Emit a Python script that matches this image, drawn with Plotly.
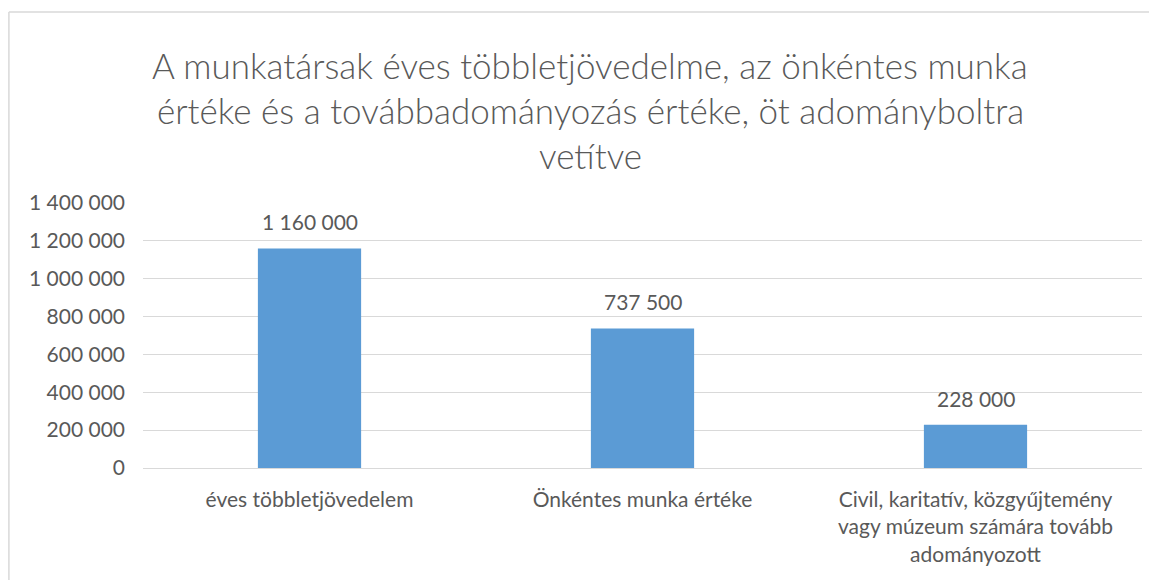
import plotly.graph_objects as go

categories = [
    "éves többletjövedelem",
    "Önkéntes munka értéke",
    "Civil, karitatív, közgyűjtemény<br>vagy múzeum számára tovább<br>adományozott",
]
values = [1160000, 737500, 228000]
tick_vals = [0, 200000, 400000, 600000, 800000, 1000000, 1200000, 1400000]
title_lines = [
    "A munkatársak éves többletjövedelme, az önkéntes munka",
    "értéke és a továbbadományozás értéke, öt adományboltra",
    "vetítve",
]

def fmt(v):
    return f"{v:,}".replace(",", " ")

W, H = 1157, 580
OFF = 8  # page body offset
L, R, T, B = 143 - OFF, 15 + OFF, 203 - OFF, 112 + OFF
PW, PH = W - L - R, H - T - B

def px(xp):
    return (xp - OFF - L) / PW

def py(yp):
    return (H - B - (yp - OFF)) / PH

TXT = "#595959"
FONT = "Lato"
FS = 21
BORDER = dict(color="#D9D9D9", width=1.5)

fig = go.Figure()
fig.add_trace(go.Bar(
    x=categories, y=values,
    marker=dict(color="#5B9BD5", line=dict(width=0)),
    width=0.31,
    hoverinfo="skip",
))

annotations = []
for c, v in zip(categories, values):
    annotations.append(dict(
        x=c, y=v, xref="x", yref="y", text=fmt(v), showarrow=False,
        yanchor="bottom", yshift=12, font=dict(family=FONT, size=FS, color=TXT),
    ))
for i, line in enumerate(title_lines):
    annotations.append(dict(
        x=px(590), y=py(65 + 45 * i), xref="paper", yref="paper",
        text=line, showarrow=False, xanchor="center", yanchor="middle",
        font=dict(family=FONT, size=35, color=TXT, weight=300),
    ))

fig.update_layout(
    width=W, height=H,
    margin=dict(l=L, r=R, t=T, b=B, autoexpand=False),
    paper_bgcolor="white", plot_bgcolor="white",
    separators=", ",
    showlegend=False,
    annotations=annotations,
    shapes=[
        dict(type="line", xref="paper", yref="paper",
             x0=px(8.9), x1=px(1200), y0=py(12), y1=py(12), line=BORDER, layer="below"),
        dict(type="line", xref="paper", yref="paper",
             x0=px(8.9), x1=px(8.9), y0=py(12), y1=py(650), line=BORDER, layer="below"),
    ],
    font=dict(family=FONT, size=FS, color=TXT),
)
fig.update_yaxes(
    range=[0, 1400000], tickvals=tick_vals, ticktext=[fmt(t) for t in tick_vals],
    showgrid=True, gridcolor="#D9D9D9", gridwidth=1,
    zeroline=True, zerolinecolor="#D9D9D9", zerolinewidth=1,
    showline=False, ticks="", ticklabelstandoff=17, automargin=False,
    tickfont=dict(family=FONT, size=FS, color=TXT),
)
fig.update_xaxes(
    showline=False, ticks="", showgrid=False, automargin=False,
    tickfont=dict(family=FONT, size=FS, color=TXT),
    ticklabelstandoff=17,
)
fig.write_html("out.html")
